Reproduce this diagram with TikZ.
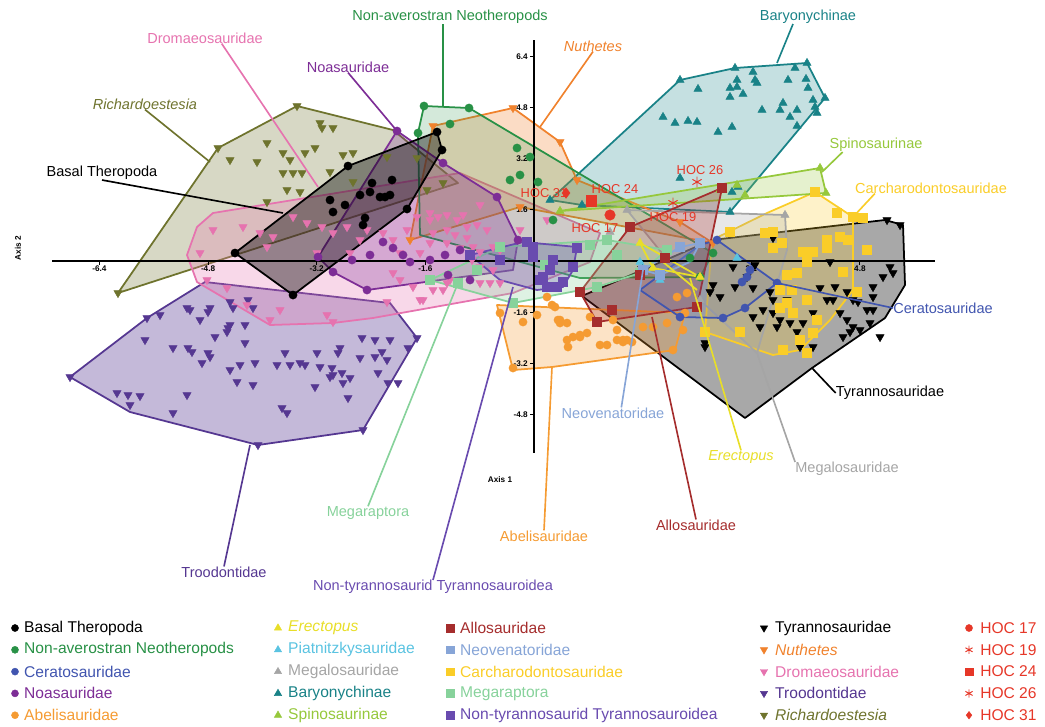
\documentclass[tikz,border=0pt]{standalone}
\usepackage{fontspec}
\setmainfont{Liberation Sans}
\usetikzlibrary{plotmarks}

\definecolor{cNeo}{RGB}{40,145,70}
\definecolor{cCera}{RGB}{65,85,175}
\definecolor{cNoa}{RGB}{125,45,150}
\definecolor{cAbel}{RGB}{245,155,50}
\definecolor{cErec}{RGB}{232,222,40}
\definecolor{cPiat}{RGB}{90,195,225}
\definecolor{cMegl}{RGB}{165,165,165}
\definecolor{cBary}{RGB}{25,130,135}
\definecolor{cSpin}{RGB}{150,200,60}
\definecolor{cAllo}{RGB}{165,45,45}
\definecolor{cNeov}{RGB}{135,165,215}
\definecolor{cCarc}{RGB}{250,205,40}
\definecolor{cMegr}{RGB}{135,210,155}
\definecolor{cNtyr}{RGB}{105,75,175}
\definecolor{cNuth}{RGB}{240,130,45}
\definecolor{cDrom}{RGB}{230,115,175}
\definecolor{cTroo}{RGB}{85,55,145}
\definecolor{cRich}{RGB}{110,115,45}
\definecolor{cHoc}{RGB}{230,55,40}

\begin{document}
\begin{tikzpicture}[x=0.03cm, y=-0.03cm,
    hull/.style={draw=#1, fill=#1, fill opacity=0.28, line width=1.5pt, line join=round},
    rim/.style={draw=#1, line width=1.5pt, line join=round},
    lead/.style={draw=#1, line width=1.4pt},
    lbl/.style={text=#1, inner sep=0pt, font=\fontsize{12.4}{14}\selectfont},
    leg/.style={text=#1, inner sep=0pt, anchor=west, font=\fontsize{13.3}{15}\selectfont},
    hoc/.style={text=cHoc, inner sep=0pt, font=\fontsize{11}{13}\selectfont},
    ticklbl/.style={inner sep=0pt, font=\bfseries\fontsize{7}{8}\selectfont},
    dots/.style={color=#1, only marks, mark=*, mark size=3.5pt},
    ups/.style={color=#1, only marks, mark=triangle*, mark size=4pt},
    downs/.style={color=#1, only marks, mark=triangle*, mark size=4pt, mark options={rotate=180}},
    boxes/.style={color=#1, only marks, mark=square*, mark size=3.7pt}]
    \useasboundingbox (0,0) rectangle (1045,726);

    % Hulls
    \filldraw[hull=cTroo, fill opacity=0.35] (70,377) -- (147,318) -- (205,282) -- (390,303) -- (417,338) -- (363,430) -- (258,445) -- (130,412) -- cycle;
    \filldraw[hull=cRich] (118,293) -- (218,148) -- (297,106) -- (393,130) -- (458,183) -- cycle;
    \filldraw[hull=cDrom] (187,255) -- (197,227) -- (213,213) -- (460,173) -- (600,233) -- (590,262) -- (513,293) -- (373,318) -- (333,323) -- (270,325) -- (197,282) -- cycle;
    \filldraw[hull=black, fill opacity=0.34] (582,296) -- (712,240) -- (885,220) -- (903,225) -- (905,285) -- (885,318) -- (812,368) -- (745,418) -- cycle;
    \filldraw[hull=cBary, fill opacity=0.25] (550,200) -- (680,80) -- (735,68) -- (807,63) -- (825,98) -- (730,212) -- (582,205) -- cycle;
    \filldraw[hull=cAbel] (497,305) -- (685,313) -- (675,350) -- (552,367) -- (513,370) -- cycle;
    \filldraw[hull=cNuth] (433,126) -- (513,108) -- (560,142) -- (577,180) -- (680,222) -- (713,243) -- (520,207) -- (410,240) -- cycle;
    \filldraw[hull=cNeo, fill opacity=0.2] (424,106) -- (469,108) -- (713,253) -- (700,277) -- (580,278) -- (420,235) -- (418,133) -- cycle;
    \filldraw[hull=cNoa] (397,131) -- (443,163) -- (497,197) -- (518,240) -- (513,270) -- (367,290) -- (333,272) -- (318,257) -- cycle;
    \filldraw[hull=cCarc, fill opacity=0.25] (705,332) -- (712,240) -- (767,213) -- (815,192) -- (853,217) -- (853,290) -- (830,320) -- (800,350) -- (773,355) -- cycle;
    \filldraw[hull=cSpin, fill opacity=0.25] (560,211) -- (820,168) -- (826,193) -- cycle;
    \filldraw[hull=cMegl, fill opacity=0.25] (627,210) -- (785,215) -- (787,250) -- (757,353) -- (700,300) -- cycle;
    \filldraw[hull=cAllo] (722,188) -- (630,227) -- (580,292) -- (597,322) -- (697,307) -- cycle;
    \filldraw[hull=cMegr] (430,280) -- (500,247) -- (607,240) -- (667,250) -- (640,273) -- (597,287) -- (513,303) -- cycle;
    \filldraw[hull=cNtyr] (470,255) -- (523,242) -- (577,247) -- (573,270) -- (563,287) -- (537,290) -- (500,280) -- cycle;
    \filldraw[hull=cCera, fill opacity=0.15] (717,240) -- (777,283) -- (745,308) -- (723,318) -- (680,317) -- (640,290) -- (700,245) -- cycle;
    \filldraw[hull=cNeov] (643,270) -- (680,247) -- (700,243) -- (690,262) -- (660,275) -- cycle;
    \draw[rim=cErec] (640,243) -- (700,277) -- (653,268) -- cycle;
    \draw[rim=cErec] (663,262) -- (697,290);
    \filldraw[hull=black, fill opacity=0.4] (235,253) -- (348,166) -- (437,132) -- (442,150) -- (407,209) -- (293,295) -- cycle;

    % Axes
    \draw[line width=1.6pt] (52,261) -- (935,261);
    \draw[line width=1.6pt] (534,40) -- (534,453);
    \foreach \v in {-6.4,-4.8,-3.2,-1.6,1.6,3.2,4.8} {
        \draw[line width=0.8pt] ({534+(\v)*67.9},261) -- ++(0,4);
        \node[ticklbl, anchor=north] at ({534+(\v)*67.9},266) {\v};
    }
    \foreach \v in {-4.8,-3.2,-1.6,1.6,3.2,4.8,6.4} {
        \draw[line width=0.8pt] (534,{261-(\v)*32}) -- ++(-4,0);
        \node[ticklbl, anchor=east] at (528,{261-(\v)*32}) {\v};
    }
    \node[ticklbl, rotate=90] (ax2) at (18,248) {Axis 2};
    \node[ticklbl] (ax1) at (500,480) {Axis 1};

    % Points
    \draw[downs=cTroo] plot coordinates {(147,318) (160,315) (187,308) (190,310) (200,320) (208,312) (210,308) (230,302) (233,308) (248,300) (253,308) (228,328) (227,332) (230,325) (245,325) (145,340) (173,348) (188,348) (192,352) (208,353) (210,357) (202,363) (215,337) (245,343) (285,353) (277,365) (290,365) (300,363) (305,365) (320,367) (332,368) (333,375) (330,377) (342,373) (350,378) (343,383) (317,353) (338,353) (340,348) (362,338) (375,340) (390,340) (408,348) (360,358) (375,357) (382,352) (387,360) (378,373) (348,398) (315,387) (255,363) (240,365) (230,370) (237,382) (253,385) (117,393) (128,395) (140,396) (130,405) (173,413) (187,395) (282,408) (287,413) (388,383) (398,383) (70,377) (258,445) (363,430) (417,338)};
    \draw[downs=cRich] plot coordinates {(322,128) (333,128) (320,123) (267,143) (283,153) (305,153) (315,148) (343,155) (353,153) (230,160) (257,162) (290,160) (283,173) (293,173) (302,173) (330,172) (353,182) (267,202) (287,190) (300,192) (387,157) (417,158) (427,190) (443,183) (118,293) (218,148) (297,106)};
    \draw[downs=cDrom] plot coordinates {(430,213) (438,217) (447,215) (457,220) (463,215) (480,205) (477,225) (487,230) (447,230) (455,235) (467,238) (473,247) (480,252) (493,247) (500,250) (430,243) (420,253) (460,248) (472,260) (480,267) (400,280) (413,287) (423,300) (433,290) (443,290) (450,280) (490,283) (493,270) (547,220) (393,273) (520,230) (527,240) (467,227) (213,230) (243,227) (260,233) (273,237) (293,217) (307,223) (322,227) (333,233) (347,227) (360,240) (367,230) (383,233) (393,240) (407,230) (417,217) (430,220) (433,233) (447,243) (400,253) (317,253) (350,253) (267,247) (200,253) (207,280) (227,288) (247,305) (280,310) (333,322) (387,302) (420,300) (447,283) (500,283) (480,283) (327,315) (270,320)};
    \draw[downs=cNuth] plot coordinates {(433,126) (513,108) (560,142) (577,180) (680,222) (713,243) (520,207) (410,240)};
    \draw[downs=black] plot coordinates {(773,238) (733,267) (755,265) (735,287) (747,277) (753,288) (713,285) (720,297) (710,292) (770,292) (773,300) (787,300) (763,310) (773,313) (780,320) (777,327) (790,323) (797,332) (803,323) (813,313) (827,300) (833,300) (840,313) (847,320) (853,327) (860,330) (867,310) (873,310) (873,287) (883,277) (890,267) (893,273) (830,262) (820,288) (835,287) (847,292) (858,302) (870,323) (880,337) (813,347) (800,347) (843,337) (850,332) (705,343) (705,347) (887,220) (900,225) (873,297) (853,300) (753,317) (760,327)};
    \draw[dots=black] plot coordinates {(330,200) (333,212) (345,205) (360,195) (370,192) (372,183) (380,197) (385,197) (390,195) (392,180) (365,218) (363,225) (348,166) (407,209) (235,253) (293,295) (437,132) (442,150)};
    \draw[dots=cNoa] plot coordinates {(397,131) (443,163) (497,197) (333,272) (367,290) (383,242) (393,248) (403,255) (430,260) (445,255) (410,262) (370,255) (352,260) (460,250) (470,280) (448,275) (318,257) (518,240)};
    \draw[dots=cNeo] plot coordinates {(424,106) (469,108) (450,124) (517,148) (520,175) (510,180) (538,182) (530,157) (553,220) (713,253) (690,258) (700,277) (418,133)};
    \draw[dots=cAbel] plot coordinates {(523,322) (537,315) (552,305) (558,320) (560,323) (567,340) (568,347) (573,337) (580,335) (600,345) (617,340) (623,342) (627,340) (643,327) (677,297) (613,320) (513,368) (673,350) (685,313) (547,297) (555,307) (560,320) (567,323) (580,337) (587,333) (590,317) (607,345) (617,330) (623,340) (632,342) (653,327) (667,323) (687,293) (683,330) (500,313)};
    \draw[dots=cCera] plot coordinates {(717,240) (777,283) (745,308) (723,318) (680,317) (742,282) (747,277) (750,270)};
    \draw[ups=cBary] plot coordinates {(663,117) (675,123) (688,121) (697,122) (698,89) (718,132) (732,127) (730,88) (730,97) (737,80) (737,87) (743,94) (753,72) (755,80) (757,83) (762,110) (780,110) (783,103) (788,80) (790,117) (795,68) (797,110) (797,126) (806,79) (808,88) (813,100) (815,107) (817,113) (680,178) (732,192) (738,187) (550,200) (680,80) (735,68) (807,63) (825,98) (730,212) (582,205)};
    \draw[ups=cSpin] plot coordinates {(560,211) (820,168) (826,193) (737,185) (745,195) (720,190)};
    \draw[ups=cMegl] plot coordinates {(627,210) (785,215) (700,300) (610,232)};
    \draw[ups=cErec] plot coordinates {(640,243) (700,277) (653,268)};
    \draw[ups=cPiat] plot coordinates {(737,258) (660,280) (640,262)};
    \draw[boxes=cCarc] plot coordinates {(837,213) (773,232) (765,233) (782,243) (773,248) (803,252) (813,252) (827,240) (827,248) (840,237) (848,240) (843,272) (797,273) (807,262) (787,275) (792,290) (857,292) (867,250) (863,218) (780,290) (787,303) (807,300) (817,320) (813,333) (800,340) (783,350) (807,353) (740,332) (730,232) (705,332) (780,308) (793,313) (815,192) (853,217)};
    \draw[boxes=cMegr] plot coordinates {(430,280) (500,247) (607,240) (667,250) (640,273) (597,287) (513,303) (458,283) (477,270) (533,255) (545,265) (617,255) (590,245)};
    \draw[boxes=cNtyr] plot coordinates {(527,242) (533,247) (577,248) (573,267) (563,282) (553,260) (550,270) (543,277) (540,280) (547,287) (557,287) (500,260) (533,257) (470,255)};
    \draw[boxes=cNeov] plot coordinates {(643,270) (680,247) (700,243) (660,275)};
    \draw[boxes=cAllo] plot coordinates {(722,188) (630,227) (580,292) (597,322) (697,307) (640,275) (665,258) (612,310)};

    % HOC specimens
    \draw[color=cHoc, only marks, mark=diamond*, mark size=4.5pt] plot coordinates {(566,193)};
    \draw[boxes=cHoc, mark size=4.5pt] plot coordinates {(591,201)};
    \draw[dots=cHoc, mark size=4.5pt] plot coordinates {(610,215)};
    \draw[color=cHoc, line width=0.8pt, only marks, mark=asterisk, mark size=4.5pt] plot coordinates {(673,203) (697,182)};
    \node[hoc] (hoc31) at (544,193) {HOC 31};
    \node[hoc] (hoc24) at (615,189) {HOC 24};
    \node[hoc] (hoc17) at (595,228) {HOC 17};
    \node[hoc] (hoc19) at (673,217) {HOC 19};
    \node[hoc] (hoc26) at (700,170) {HOC 26};

    % Group labels
    \node[lbl=cDrom] (lDrom) at (205,38) {Dromaeosauridae};
    \node[lbl=cNeo] (lNeo) at (450,17) {Non-averostran Neotheropods};
    \node[lbl=cNoa] (lNoa) at (348,67) {Noasauridae};
    \node[lbl=cRich] (lRich) at (145,104) {\itshape Richardoestesia};
    \node[lbl=black] (lBas) at (102,173) {Basal Theropoda};
    \node[lbl=cNuth] (lNuth) at (593,46) {\itshape Nuthetes};
    \node[lbl=cBary] (lBary) at (808,17) {Baryonychinae};
    \node[lbl=cSpin] (lSpin) at (876,145) {Spinosaurinae};
    \node[lbl=cCarc] (lCarc) at (931,188) {Carcharodontosauridae};
    \node[lbl=cCera] (lCera) at (943,308) {Ceratosauridae};
    \node[lbl=black] (lTyra) at (890,393) {Tyrannosauridae};
    \node[lbl=cMegl] (lMegl) at (847,469) {Megalosauridae};
    \node[lbl=cErec] (lErec) at (741,457) {\itshape Erectopus};
    \node[lbl=cAllo] (lAllo) at (696,525) {Allosauridae};
    \node[lbl=cNeov] (lNeov) at (613,413) {Neovenatoridae};
    \node[lbl=cAbel] (lAbel) at (544,536) {Abelisauridae};
    \node[lbl=cNtyr] (lNtyr) at (433,587) {Non-tyrannosaurid Tyrannosauroidea};
    \node[lbl=cMegr] (lMegr) at (368,513) {Megaraptora};
    \node[lbl=cTroo] (lTroo) at (224,572) {Troodontidae};

    % Leader lines
    \coordinate (aDrom) at (318,187);
    \coordinate (aNeo) at (443,107);
    \coordinate (aNoa) at (397,131);
    \coordinate (aRich) at (210,162);
    \coordinate (aBas) at (283,213);
    \coordinate (aNuth) at (540,127);
    \coordinate (aBary) at (777,63);
    \coordinate (aSpin) at (822,172);
    \coordinate (aCarc) at (853,217);
    \coordinate (aCera) at (777,283);
    \coordinate (aTyra) at (812,368);
    \coordinate (aMegl) at (757,353);
    \coordinate (aErec) at (690,278);
    \coordinate (aAllo) at (652,317);
    \coordinate (aNeov) at (643,270);
    \coordinate (aAbel) at (552,367);
    \coordinate (aNtyr) at (513,287);
    \coordinate (aMegr) at (458,283);
    \coordinate (aTroo) at (250,445);
    \draw[lead=cDrom] ([xshift=0.5cm]lDrom.south) -- (aDrom);
    \draw[lead=cNeo] (lNeo.south -| aNeo) -- (aNeo);
    \draw[lead=cNoa] (lNoa.south) -- (aNoa);
    \draw[lead=cRich] (lRich.south) -- (aRich);
    \draw[lead=black] (lBas.south) -- (aBas);
    \draw[lead=cNuth] (lNuth.south) -- (aNuth);
    \draw[lead=cBary] ([xshift=-0.45cm]lBary.south) -- (aBary);
    \draw[lead=cSpin] ([xshift=0.4cm]lSpin.south west) -- (aSpin);
    \draw[lead=cCarc] ([xshift=0.6cm]lCarc.south west) -- (aCarc);
    \draw[lead=cCera] (aCera) -- (lCera.west);
    \draw[lead=black] (aTyra) -- (lTyra.west);
    \draw[lead=cMegl] (aMegl) -- (lMegl.north west);
    \draw[lead=cErec] (aErec) -- (lErec.north);
    \draw[lead=cAllo] (aAllo) -- (lAllo.north);
    \draw[lead=cNeov] (aNeov) -- ([xshift=0.25cm]lNeov.north);
    \draw[lead=cAbel] (aAbel) -- (lAbel.north);
    \draw[lead=cNtyr] (aNtyr) -- (lNtyr.north);
    \draw[lead=cMegr] (aMegr) -- (lMegr.north);
    \draw[lead=cTroo] (aTroo) -- (lTroo.north);

    % Legend
    \foreach \c/\t [count=\i from 0] in {black/Basal Theropoda, cNeo/Non-averostran Neotheropods, cCera/Ceratosauridae, cNoa/Noasauridae, cAbel/Abelisauridae} {
        \draw[dots=\c, mark size=3pt] plot coordinates {(15,628+21.8*\i)};
        \node[leg=\c] (ka\i) at (24,628+21.8*\i) {\t};
    }
    \foreach \c/\t [count=\i from 0] in {cErec/{\itshape Erectopus}, cPiat/Piatnitzkysauridae, cMegl/Megalosauridae, cBary/Baryonychinae, cSpin/Spinosaurinae} {
        \draw[ups=\c, mark size=3.6pt] plot coordinates {(278,628+21.8*\i)};
        \node[leg=\c] (kb\i) at (288,628+21.8*\i) {\t};
    }
    \foreach \c/\t [count=\i from 0] in {cAllo/Allosauridae, cNeov/Neovenatoridae, cCarc/Carcharodontosauridae, cMegr/Megaraptora, cNtyr/Non-tyrannosaurid Tyrannosauroidea} {
        \draw[boxes=\c, mark size=3.2pt] plot coordinates {(450,628+21.8*\i)};
        \node[leg=\c] (kc\i) at (460,628+21.8*\i) {\t};
    }
    \foreach \c/\t [count=\i from 0] in {black/Tyrannosauridae, cNuth/{\itshape Nuthetes}, cDrom/Dromaeosauridae, cTroo/Troodontidae, cRich/{\itshape Richardoestesia}} {
        \draw[downs=\c, mark size=3.6pt] plot coordinates {(764,628+21.8*\i)};
        \node[leg=\c] (kd\i) at (775,628+21.8*\i) {\t};
    }
    \draw[dots=cHoc, mark size=3pt] plot coordinates {(969,628)};
    \draw[color=cHoc, line width=0.8pt, only marks, mark=asterisk, mark size=3.5pt] plot coordinates {(969,649.8) (969,693.4)};
    \draw[boxes=cHoc, mark size=3.2pt] plot coordinates {(969,671.6)};
    \draw[color=cHoc, only marks, mark=diamond*, mark size=3.2pt] plot coordinates {(969,715.2)};
    \foreach \t [count=\i from 0] in {HOC 17, HOC 19, HOC 24, HOC 26, HOC 31} {
        \node[leg=cHoc] (ke\i) at (980,628+21.8*\i) {\t};
    }
\end{tikzpicture}
\end{document}
